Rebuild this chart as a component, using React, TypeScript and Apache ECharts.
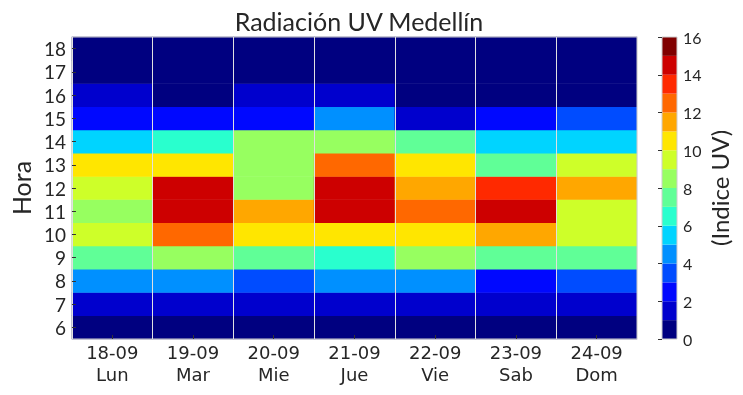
import React, { useEffect, useRef } from "react";
import * as echarts from "echarts";

const dates = ["18-09", "19-09", "20-09", "21-09", "22-09", "23-09", "24-09"];
const weekdays = ["Lun", "Mar", "Mie", "Jue", "Vie", "Sab", "Dom"];
const hours = ["6", "7", "8", "9", "10", "11", "12", "13", "14", "15", "16", "17", "18"];

// UV index per day, hours 6..18
const uvLun = [0, 1, 4, 7, 9, 8, 9, 10, 5, 2, 1, 0, 0];
const uvMar = [0, 1, 4, 8, 12, 14, 14, 10, 6, 2, 0, 0, 0];
const uvMie = [0, 1, 3, 7, 10, 11, 8, 8, 8, 2, 1, 0, 0];
const uvJue = [0, 1, 4, 6, 10, 14, 14, 12, 8, 4, 1, 0, 0];
const uvVie = [0, 1, 4, 8, 10, 12, 11, 10, 7, 1, 0, 0, 0];
const uvSab = [0, 1, 2, 7, 11, 14, 13, 7, 5, 2, 0, 0, 0];
const uvDom = [0, 1, 3, 7, 9, 9, 11, 9, 5, 3, 0, 0, 0];
const uvByDay = [uvLun, uvMar, uvMie, uvJue, uvVie, uvSab, uvDom];

const levelColors = [
  "#000080", "#0000cd", "#0008ff", "#004cff", "#0090ff", "#00d4ff", "#29ffce", "#60ff97",
  "#97ff60", "#ceff29", "#ffe600", "#ffa700", "#ff6800", "#ff2900", "#cd0000", "#800000",
];
const levels = levelColors.map((_, i) => i);

const FONT = "Lato";
const XFONT = "DejaVu Sans";
const TXT = "#262626";

export default function App() {
  const ref = useRef<HTMLDivElement>(null);
  useEffect(() => {
    const chart = echarts.init(ref.current!, null, { renderer: "svg" });
    const heatData: number[][] = [];
    uvByDay.forEach((vals, d) => vals.forEach((v, h) => heatData.push([d, h, v])));
    chart.setOption({
      animation: false,
      textStyle: { fontFamily: FONT },
      title: {
        text: "Radiación UV Medellín",
        left: 354,
        textAlign: "center",
        top: 3,
        textStyle: { fontFamily: FONT, fontSize: 25, fontWeight: "normal", color: TXT },
      },
      grid: [
        { left: 71, right: 106, top: 37, bottom: 56, show: true, z: 10, borderColor: "#cccccc", borderWidth: 1, backgroundColor: "transparent" },
        { left: 662, width: 15, top: 37, height: 302, show: true, z: 10, borderColor: "#cccccc", borderWidth: 1, backgroundColor: "transparent" },
      ],
      xAxis: [
        {
          type: "category",
          gridIndex: 0,
          data: dates.map((d, i) => d + "\n" + weekdays[i]),
          z: 10,
          axisLine: { show: false },
          axisTick: { show: true, inside: true, alignWithLabel: true, interval: 0, length: 4, lineStyle: { color: "#333" } },
          axisLabel: { fontFamily: XFONT, fontSize: 18, color: TXT, lineHeight: 22, margin: 2, interval: 0 },
          splitLine: { show: true, interval: 0, lineStyle: { color: "#e0e0e0", width: 1 } },
        },
        { type: "value", gridIndex: 1, min: 0, max: 1, show: false },
      ],
      yAxis: [
        {
          type: "category",
          gridIndex: 0,
          data: hours,
          z: 10,
          name: "Hora",
          nameLocation: "middle",
          nameGap: 37,
          nameRotate: 90,
          nameTextStyle: { fontFamily: FONT, fontSize: 25, color: TXT },
          axisLine: { show: false },
          axisTick: { show: true, inside: true, alignWithLabel: true, interval: 0, length: 4, lineStyle: { color: "#333" } },
          axisLabel: { fontFamily: FONT, fontSize: 19, color: TXT, margin: 6, interval: 0 },
          splitLine: { show: false },
        },
        {
          type: "value",
          gridIndex: 1,
          min: 0,
          max: 16,
          interval: 2,
          position: "right",
          z: 10,
          name: "(Indice UV)",
          nameLocation: "middle",
          nameGap: 30,
          nameRotate: 90,
          nameTextStyle: { fontFamily: FONT, fontSize: 24, color: TXT },
          axisLine: { show: false },
          axisTick: { show: true, inside: true, length: 4, lineStyle: { color: "#333" } },
          axisLabel: { fontFamily: FONT, fontSize: 16, color: TXT, margin: 6 },
          splitLine: { show: false },
        },
      ],
      visualMap: {
        type: "piecewise",
        show: false,
        seriesIndex: 0,
        dimension: 2,
        pieces: levels.map((i) => ({ gte: i, lt: i + 1, color: levelColors[i] })),
      },
      series: [
        {
          type: "heatmap",
          xAxisIndex: 0,
          yAxisIndex: 0,
          data: heatData,
          itemStyle: { borderWidth: 0 },
          emphasis: { disabled: true },
        },
        {
          type: "custom",
          xAxisIndex: 1,
          yAxisIndex: 1,
          data: levels.map((i) => [i]),
          renderItem: (_params: any, api: any) => {
            const i = api.value(0);
            const p0 = api.coord([0, i]);
            const p1 = api.coord([1, i + 1]);
            return {
              type: "rect",
              shape: { x: p0[0], y: p1[1], width: p1[0] - p0[0], height: p0[1] - p1[1] },
              style: { fill: levelColors[i] },
            };
          },
        },
      ],
    });
    return () => chart.dispose();
  }, []);
  return <div ref={ref} style={{ position: "fixed", left: 0, top: 0, width: 743, height: 395 }} />;
}
